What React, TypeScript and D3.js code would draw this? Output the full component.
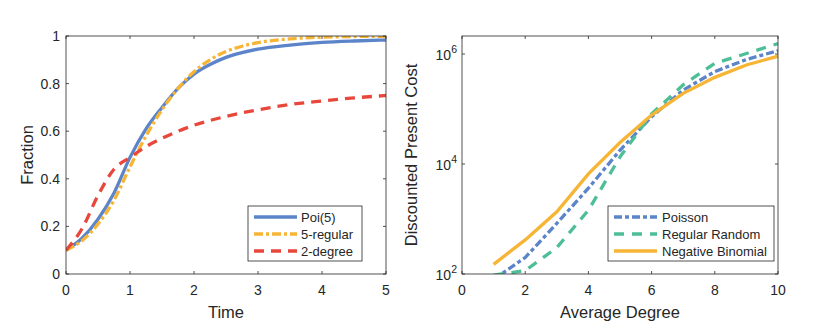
import * as d3 from 'd3';
import React from 'react';

// left panel: fraction over time
const times = [0, 0.25, 0.5, 0.75, 1, 1.25, 1.5, 1.75, 2, 2.25, 2.5, 2.75, 3, 3.5, 4, 4.5, 5];
const poi5 = [0.1, 0.15, 0.23, 0.34, 0.49, 0.61, 0.7, 0.78, 0.84, 0.88, 0.91, 0.93, 0.945, 0.962, 0.973, 0.979, 0.983];
const regular5 = [0.1, 0.14, 0.21, 0.31, 0.45, 0.58, 0.69, 0.78, 0.85, 0.9, 0.935, 0.957, 0.972, 0.988, 0.995, 0.998, 0.999];
const degree2 = [0.1, 0.19, 0.33, 0.44, 0.49, 0.535, 0.57, 0.6, 0.625, 0.645, 0.662, 0.677, 0.69, 0.712, 0.727, 0.74, 0.75];

// right panel: discounted present cost (log10) by average degree
const degrees = [1, 2, 3, 4, 5, 6, 7, 8, 9, 10];
const poissonLog = [1.9, 2.3, 2.92, 3.56, 4.25, 4.86, 5.345, 5.68, 5.9, 6.06];
const regularLog = [1.98, 2.06, 2.48, 3.16, 4.13, 4.91, 5.44, 5.83, 6.01, 6.19];
const negBinLog = [2.176, 2.62, 3.13, 3.82, 4.39, 4.89, 5.285, 5.575, 5.8, 5.96];

const leftXTicks = [0, 1, 2, 3, 4, 5];
const leftYTicks = [0, 0.2, 0.4, 0.6, 0.8, 1];
const rightXTicks = [0, 2, 4, 6, 8, 10];
const rightYExps = [2, 4, 6];

const BLUE = '#5b84c9';
const ORANGE = '#f7b536';
const RED = '#e8483b';
const GREEN = '#4dbe95';
const AXIS = '#262626';
const FONT = '"Liberation Sans", Arial, Helvetica, sans-serif';

function App() {
  // left plot box
  const L = { x0: 66, x1: 386, y0: 36, y1: 274 };
  const lx = d3.scaleLinear().domain([0, 5]).range([L.x0, L.x1]);
  const ly = d3.scaleLinear().domain([0, 1]).range([L.y1, L.y0]);

  // right plot box
  const R = { x0: 462, x1: 778, y0: 36, y1: 274 };
  const rx = d3.scaleLinear().domain([0, 10]).range([R.x0, R.x1]);
  const ry = d3.scaleLog().domain([100, Math.pow(10, 2 + 238 / 55)]).range([R.y1, R.y0]);

  const smooth = (ys: number[]) =>
    d3.line<number>().x((d, i) => lx(times[i])).y(d => ly(d)).curve(d3.curveMonotoneX)(ys) || '';
  const straight = (logs: number[]) =>
    d3.line<number>().x((d, i) => rx(degrees[i])).y(d => ry(Math.pow(10, d)))(logs) || '';

  const leftSeries = [
    { name: 'Poi(5)', d: smooth(poi5), color: BLUE, dash: '' },
    { name: '5-regular', d: smooth(regular5), color: ORANGE, dash: '9,3,3,3' },
    { name: '2-degree', d: smooth(degree2), color: RED, dash: '10,7' },
  ];
  const rightSeries = [
    { name: 'Poisson', d: straight(poissonLog), color: BLUE, dash: '8,3,4,3' },
    { name: 'Regular Random', d: straight(regularLog), color: GREEN, dash: '10,8' },
    { name: 'Negative Binomial', d: straight(negBinLog), color: ORANGE, dash: '' },
  ];

  const tick = 3;
  const lw = 3.3;

  return (
    <div style={{ position: 'absolute', left: 0, top: 0 }}>
      <svg width={830} height={336} style={{ display: 'block', background: '#fff' }} fontFamily={FONT}>
        <defs>
          <clipPath id="clipL"><rect x={L.x0} y={L.y0} width={L.x1 - L.x0} height={L.y1 - L.y0} /></clipPath>
          <clipPath id="clipR"><rect x={R.x0} y={R.y0} width={R.x1 - R.x0} height={R.y1 - R.y0} /></clipPath>
        </defs>

        {/* ---- left panel ---- */}
        <g clipPath="url(#clipL)">
          {leftSeries.map(s => (
            <path key={s.name} d={s.d} fill="none" stroke={s.color} strokeWidth={lw} strokeDasharray={s.dash} />
          ))}
        </g>
        <rect x={L.x0} y={L.y0} width={L.x1 - L.x0} height={L.y1 - L.y0} fill="none" stroke={AXIS} strokeWidth={0.8} />
        {leftXTicks.map(t => (
          <g key={'lx' + t}>
            <line x1={lx(t)} x2={lx(t)} y1={L.y1} y2={L.y1 - tick} stroke={AXIS} strokeWidth={0.8} />
            <line x1={lx(t)} x2={lx(t)} y1={L.y0} y2={L.y0 + tick} stroke={AXIS} strokeWidth={0.8} />
            <text x={lx(t)} y={L.y1 + 21} textAnchor="middle" fontSize={14} fill={AXIS}>{t}</text>
          </g>
        ))}
        {leftYTicks.map(t => (
          <g key={'ly' + t}>
            <line x1={L.x0} x2={L.x0 + tick} y1={ly(t)} y2={ly(t)} stroke={AXIS} strokeWidth={0.8} />
            <line x1={L.x1} x2={L.x1 - tick} y1={ly(t)} y2={ly(t)} stroke={AXIS} strokeWidth={0.8} />
            <text x={L.x0 - 6} y={ly(t) + 5} textAnchor="end" fontSize={14} fill={AXIS}>{t}</text>
          </g>
        ))}
        <text x={(L.x0 + L.x1) / 2} y={318} textAnchor="middle" fontSize={16.5} fill={AXIS}>Time</text>
        <text transform={`translate(33,${(L.y0 + L.y1) / 2}) rotate(-90)`} textAnchor="middle" fontSize={16.5} fill={AXIS}>Fraction</text>

        <rect x={248} y={206} width={114} height={55} fill="#fff" stroke={AXIS} strokeWidth={0.8} />
        {leftSeries.map((s, i) => (
          <g key={'ll' + s.name}>
            <line x1={254} x2={297} y1={217 + i * 17} y2={217 + i * 17} stroke={s.color} strokeWidth={lw} strokeDasharray={s.dash} />
            <text x={301} y={217 + i * 17 + 4.5} fontSize={13} fill={AXIS}>{s.name}</text>
          </g>
        ))}

        {/* ---- right panel ---- */}
        <g clipPath="url(#clipR)">
          {rightSeries.map(s => (
            <path key={s.name} d={s.d} fill="none" stroke={s.color} strokeWidth={lw} strokeDasharray={s.dash} />
          ))}
        </g>
        <rect x={R.x0} y={R.y0} width={R.x1 - R.x0} height={R.y1 - R.y0} fill="none" stroke={AXIS} strokeWidth={0.8} />
        {rightXTicks.map(t => (
          <g key={'rx' + t}>
            <line x1={rx(t)} x2={rx(t)} y1={R.y1} y2={R.y1 - tick} stroke={AXIS} strokeWidth={0.8} />
            <line x1={rx(t)} x2={rx(t)} y1={R.y0} y2={R.y0 + tick} stroke={AXIS} strokeWidth={0.8} />
            <text x={rx(t)} y={R.y1 + 21} textAnchor="middle" fontSize={14} fill={AXIS}>{t}</text>
          </g>
        ))}
        {rightYExps.map(e => {
          const y = ry(Math.pow(10, e));
          return (
            <g key={'ry' + e}>
              <line x1={R.x0} x2={R.x0 + tick} y1={y} y2={y} stroke={AXIS} strokeWidth={0.8} />
              <line x1={R.x1} x2={R.x1 - tick} y1={y} y2={y} stroke={AXIS} strokeWidth={0.8} />
              <text x={R.x0 - 5} y={y + 6} textAnchor="end" fontSize={14} fill={AXIS}>
                10<tspan dy={-7} fontSize={10.5}>{e}</tspan>
              </text>
            </g>
          );
        })}
        <text x={(R.x0 + R.x1) / 2} y={318} textAnchor="middle" fontSize={16.5} fill={AXIS}>Average Degree</text>
        <text transform={`translate(417,${(R.y0 + R.y1) / 2}) rotate(-90)`} textAnchor="middle" fontSize={16.5} fill={AXIS}>Discounted Present Cost</text>

        <rect x={608} y={206} width={166} height={55} fill="#fff" stroke={AXIS} strokeWidth={0.8} />
        {rightSeries.map((s, i) => (
          <g key={'rl' + s.name}>
            <line x1={614} x2={657} y1={217 + i * 17} y2={217 + i * 17} stroke={s.color} strokeWidth={lw} strokeDasharray={s.dash} />
            <text x={662} y={217 + i * 17 + 4.5} fontSize={13} fill={AXIS}>{s.name}</text>
          </g>
        ))}
      </svg>
    </div>
  );
}

export default App;
